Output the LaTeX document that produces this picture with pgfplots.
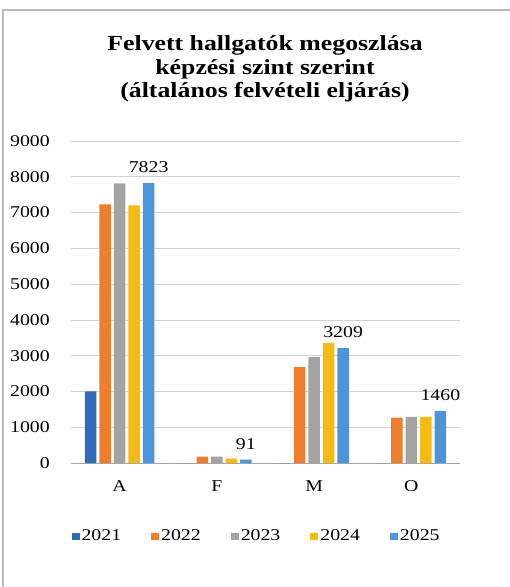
\documentclass[border=0pt]{standalone}
\usepackage{pgfplots}
\pgfplotsset{compat=1.18}
\usepackage{fontspec}
\setmainfont[FakeStretch=1.2]{Liberation Serif}
\definecolor{cA}{HTML}{2E6BB8}
\definecolor{cB}{HTML}{EE7D2E}
\definecolor{cC}{HTML}{A3A3A3}
\definecolor{cD}{HTML}{F5BB12}
\definecolor{cE}{HTML}{4C95DA}
\begin{document}
\begin{tikzpicture}[x=1pt,y=1pt]
\path[use as bounding box, fill=white] (0,0) rectangle (510,587);
\draw[gray!55, line width=1.5pt] (3,0) -- (3,577) -- (510,577);
\node[align=center, font=\fontsize{21.5}{23.5}\selectfont\bfseries] at (265,518)
  {Felvett hallgatók megoszlása\\képzési szint szerint\\(általános felvételi eljárás)};
\begin{axis}[
  at={(71pt,124pt)}, anchor=south west, scale only axis,
  width=389pt, height=322pt,
  ybar=3pt, bar width=11.5pt,
  xmin=-0.5, xmax=3.5, ymin=0, ymax=9000,
  xtick={0,1,2,3}, xticklabels={A,F,M,O},
  ytick={0,1000,...,9000},
  major tick length=0pt,
  axis line style={draw=none},
  ymajorgrids, grid style={gray!35, line width=0.6pt},
  extra y ticks={0}, extra y tick labels={},
  extra y tick style={grid style={gray!70, line width=0.8pt}},
  /pgf/number format/assume math mode=true,
  /pgf/number format/1000 sep={},
  tick label style={font=\fontsize{16.5}{18}\selectfont},
  yticklabel style={inner sep=0pt, xshift=-21pt},
  xticklabel style={inner sep=0pt, yshift=-17pt},
  legend columns=5,
  legend style={at={(0.477,-0.227)}, anchor=center, draw=none, fill=none,
    font=\fontsize{16.5}{18}\selectfont,
    /tikz/every even column/.append style={column sep=28pt}},
  legend image code/.code={\fill[#1, draw=none] (0pt,-3.5pt) rectangle (8pt,3.5pt);},
  every axis plot/.append style={draw=none},
]
\addplot[fill=cA] coordinates {(0,2000) (1,0) (2,0) (3,0)};
\addplot[fill=cB] coordinates {(0,7230) (1,175) (2,2680) (3,1265)};
\addplot[fill=cC] coordinates {(0,7815) (1,175) (2,2960) (3,1290)};
\addplot[fill=cD] coordinates {(0,7200) (1,120) (2,3350) (3,1290)};
\addplot[fill=cE, nodes near coords,
  nodes near coords style={font=\fontsize{16.5}{18}\selectfont, inner sep=0pt, anchor=south, yshift=10pt, text=black},
  /pgf/number format/assume math mode=true]
  coordinates {(0,7823) (1,91) (2,3209) (3,1460)};
\legend{2021,2022,2023,2024,2025}
\end{axis}
\end{tikzpicture}
\end{document}
